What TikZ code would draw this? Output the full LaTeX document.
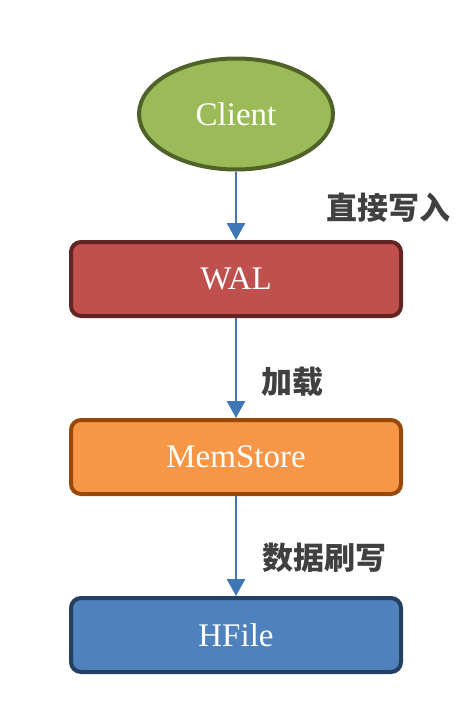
\documentclass[tikz,border=0pt]{standalone}
\usepackage{fontspec}
\setmainfont{Liberation Serif}
\newfontfamily\cjk{Noto Sans CJK SC}
\usetikzlibrary{positioning,shapes.geometric,arrows.meta}

\definecolor{clientfill}{HTML}{9BBB59}
\definecolor{clientline}{HTML}{4F6228}
\definecolor{walfill}{HTML}{C0504D}
\definecolor{walline}{HTML}{632523}
\definecolor{memfill}{HTML}{F79646}
\definecolor{memline}{HTML}{984807}
\definecolor{hfill}{HTML}{4F81BD}
\definecolor{hline}{HTML}{243F60}
\definecolor{flow}{HTML}{3F76B8}
\definecolor{lbl}{HTML}{404040}

\begin{document}
\begin{tikzpicture}
  [x=1pt, y=-1pt,
   stage/.style={draw,
                 rounded corners=10pt,
                 line width=4pt,
                 minimum width=330pt,
                 minimum height=74pt,
                 text=white,
                 font=\fontsize{33}{40}\selectfont},
   flowarrow/.style={flow,
                     line width=2.5pt,
                     -{Triangle[width=18pt,length=17pt]}},
   note/.style={text=lbl,
                font=\cjk\bfseries\fontsize{31}{36}\selectfont}]
  \useasboundingbox (0,0) rectangle (476,710);
  \node[ellipse, draw=clientline, fill=clientfill, line width=4pt,
        minimum width=194pt, minimum height=111pt, text=white,
        font=\fontsize{33}{40}\selectfont] (client) at (236,114) {Client};
  \node[stage, draw=walline, fill=walfill] (wal) at (236,279) {WAL};
  \node[stage, draw=memline, fill=memfill] (mem) at (236,457) {MemStore};
  \node[stage, draw=hline, fill=hfill] (hfile) at (236,635) {HFile};

  \draw[flowarrow] (client.south) -- (wal.north);
  \draw[flowarrow] (wal.south) -- (mem.north);
  \draw[flowarrow] (mem.south) -- (hfile.north);

  \node[note] (write) at (388,208) {直接写入};
  \node[note] (load) at (292,382) {加载};
  \node[note] (flush) at (324,558) {数据刷写};
\end{tikzpicture}
\end{document}
